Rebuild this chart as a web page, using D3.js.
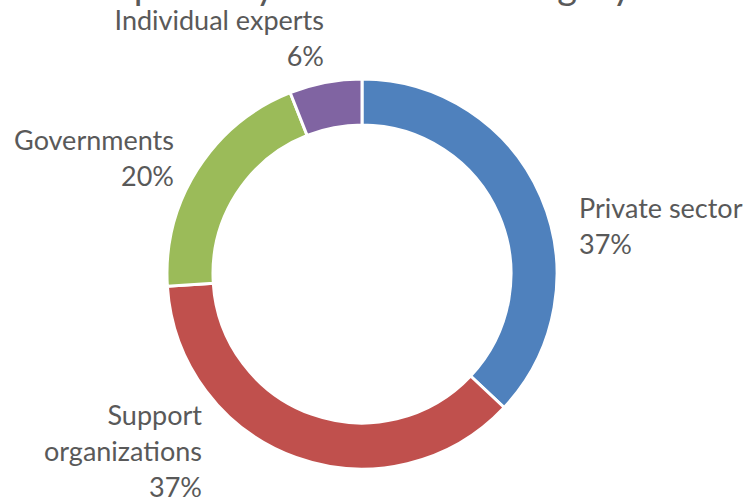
<!DOCTYPE html>
<html>
<head>
<meta charset="utf-8">
<script src="https://cdn.jsdelivr.net/npm/d3@7"></script>
<style>
  body { margin: 0; background: #fff; }
  svg text { font-family: Lato, "Open Sans", sans-serif; fill: #595959; }
</style>
</head>
<body>
<div id="chart"></div>
<script>
let categories = ["Private sector", "Support organizations", "Governments", "Individual experts"];
let shares = [37, 37, 20, 6];
let colors = ["#4F81BD", "#C0504D", "#9BBB59", "#8064A2"];
let labelLines = [["Private sector", "37%"], ["Support", "organizations", "37%"], ["Governments", "20%"], ["Individual experts", "6%"]];

let width = 746, height = 500;
let cx = 362, cy = 274;
let outerR = 195, innerR = 149;

// where each label block goes (x, first baseline, anchor)
let labelLayout = [
    {x: 579, y: 218, anchor: "start"},
    {x: 202, y: 425, anchor: "end"},
    {x: 174, y: 150, anchor: "end"},
    {x: 324, y: 30, anchor: "end"}
];

let svg = d3.select("#chart")
    .append("svg")
    .attr("width", width)
    .attr("height", height);

// title is cut off by the top of the frame
svg.append("text")
    .attr("x", 330)
    .attr("y", -1)
    .attr("text-anchor", "middle")
    .style("font-size", "38px")
    .text("Participants by stakeholder category");

let pie = d3.pie().sort(null).value((d) => d);
let arc = d3.arc().innerRadius(innerR).outerRadius(outerR);

let g = svg.append("g")
    .attr("transform", "translate(" + cx + ", " + cy + ")");

g.selectAll("path")
    .data(pie(shares))
    .enter()
    .append("path")
    .attr("d", arc)
    .attr("fill", (d, i) => colors[i])
    .attr("stroke", "#fff")
    .attr("stroke-width", 3);

let labels = svg.selectAll(".label")
    .data(categories)
    .enter()
    .append("text")
    .attr("class", "label")
    .attr("text-anchor", (d, i) => labelLayout[i].anchor)
    .style("font-size", "27px");

labels.each(function(d, i) {
    let t = d3.select(this);
    labelLines[i].forEach((line, j) => {
        t.append("tspan")
            .attr("x", labelLayout[i].x)
            .attr("y", labelLayout[i].y + j * 36)
            .text(line);
    });
});
</script>
</body>
</html>
